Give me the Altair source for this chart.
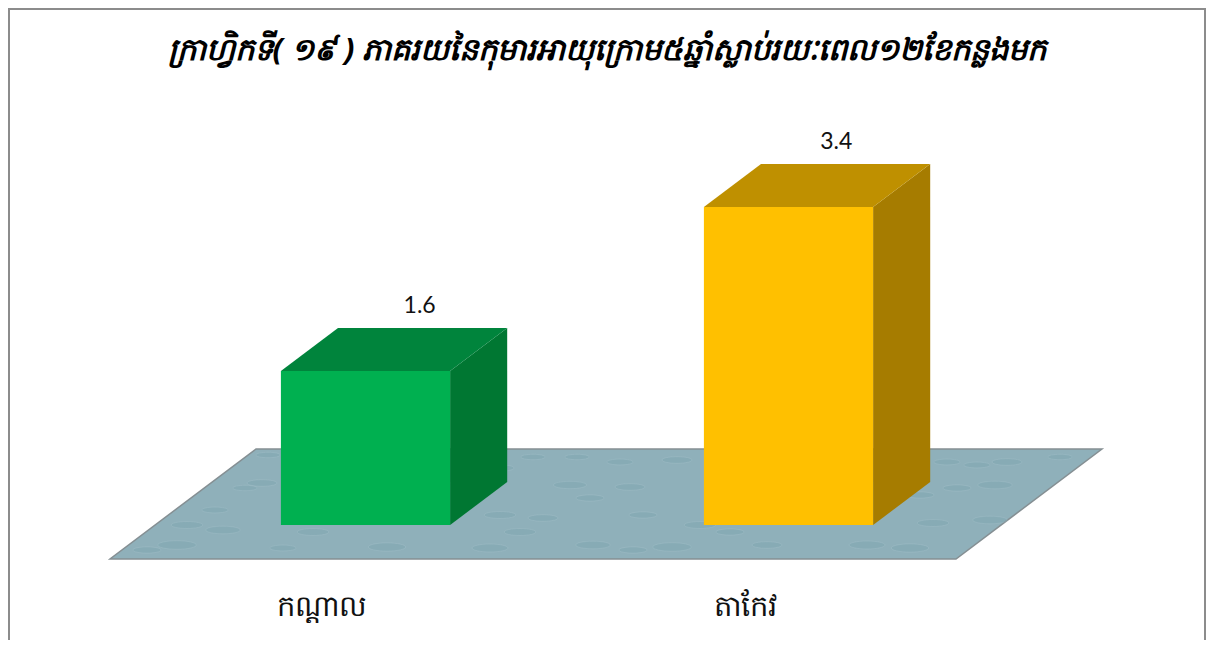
import altair as alt
import pandas as pd

title_text = "ក្រាហ្វិកទី( ១៩ ) ភាគរយនៃកុមារអាយុក្រោម៥ឆ្នាំស្លាប់រយៈពេល១២ខែកន្លងមក"
categories = ["កណ្តាល", "តាកែវ"]
values = [1.6, 3.4]
front_colors = ["#00B050", "#FFC000"]
top_colors = ["#00843C", "#BF9000"]
side_colors = ["#007732", "#A67C00"]

# Water ripples on the floor (in scale units, derived below)
ripple_px_x = [177, 147, 187, 245, 262, 223, 283, 313, 387, 490, 500, 463, 500, 533, 570, 593, 543,
               590, 477, 577, 520, 268, 215, 672, 630, 643, 700, 620, 677, 730, 910, 995, 957, 947,
               1007, 1060, 933, 990, 867, 977, 920, 767, 633]
ripple_px_y = [545, 550, 525, 488, 483, 530, 548, 532, 547, 548, 515, 485, 468, 457, 485, 545, 518,
               498, 460, 457, 532, 455, 510, 547, 487, 515, 525, 462, 460, 532, 548, 485, 488, 462,
               462, 457, 523, 520, 545, 465, 495, 545, 550]
ripple_sizes = [1500, 800, 1000, 600, 900, 1200, 700, 1000, 1400, 1300, 1000, 700, 800, 600, 1100, 1200, 900,
                800, 700, 600, 1000, 600, 700, 1500, 900, 800, 1000, 700, 900, 800, 1400, 1200, 800, 700,
                900, 600, 1000, 1200, 1300, 700, 800, 900, 800]
label_shift = [0.128, 0.113]

# Layout of the pseudo-3D projection, in scale units
W, H = 1198, 632
X_DOMAIN = [-357.5 / 423, (W - 357.5) / 423]
Y_DOMAIN = [(508.8 - H) / 91.1, 508.8 / 91.1]
HALF = 0.2
DX, DY = 0.135, 0.472
BASE = -0.09

xs = alt.Scale(domain=X_DOMAIN, nice=False, zero=False)
ys = alt.Scale(domain=Y_DOMAIN, nice=False, zero=False)
X = lambda f: alt.X(f, type="quantitative", scale=xs, axis=None)
Y = lambda f: alt.Y(f, type="quantitative", scale=ys, axis=None)

bars = pd.DataFrame({
    "i": range(len(values)), "cat": categories, "v": values,
    "front": front_colors, "top": top_colors, "side": side_colors,
    "shift": label_shift,
})
bars["l"] = bars.i - HALF
bars["r"] = bars.i + HALF
bars["base"] = BASE

side_rows, top_rows = [], []
for b in bars.itertuples():
    for k in (0, 1):
        side_rows.append({"x": b.r + k * DX, "y": BASE + k * DY, "y2": b.v + k * DY, "c": b.side})
        top_rows.append({"y": b.v + k * DY, "x": b.l + k * DX, "x2": b.r + k * DX, "c": b.top})
side = pd.DataFrame(side_rows)
top = pd.DataFrame(top_rows)

floor_df = pd.DataFrame({
    "y": [-0.463, 0.744],
    "x": [-0.604, -0.259],
    "x2": [1.396, 1.741],
})
ripples = pd.DataFrame({
    "x": [(p - 365.5) / 423 for p in ripple_px_x],
    "y": [(516.8 - p) / 91.1 for p in ripple_px_y],
    "s": ripple_sizes,
})

floor = alt.Chart(floor_df).mark_area(
    orient="horizontal", stroke="#858f93", strokeWidth=1.5, color="#8FB0BA"
).encode(x=X("x"), x2="x2", y=Y("y"))

ELLIPSE = "M-1,0 A1,0.22 0 1,0 1,0 A1,0.22 0 1,0 -1,0 Z"
ripple_m = alt.Chart(ripples).mark_point(
    shape=ELLIPSE, filled=True, fill="#6F9AA8", fillOpacity=0.25,
    stroke="#B5CED5", strokeOpacity=0.35, strokeWidth=0.7,
).encode(x=X("x"), y=Y("y"), size=alt.Size("s:Q", scale=None))

side_m = alt.Chart(side).mark_area(orient="vertical").encode(
    x=X("x"), y=Y("y"), y2="y2", color=alt.Color("c:N", scale=None))
top_m = alt.Chart(top).mark_area(orient="horizontal").encode(
    x=X("x"), x2="x2", y=Y("y"), color=alt.Color("c:N", scale=None))
front_m = alt.Chart(bars).mark_rect().encode(
    x=X("l"), x2="r", y=Y("base"), y2="v", color=alt.Color("front:N", scale=None))

bars["vlab"] = bars.v + DY
bars["xlab"] = bars.i + bars["shift"]
bars["vtxt"] = bars.v.map("{:.1f}".format)
bars["xcat"] = bars.i - 0.102
bars["ycat"] = -0.99
val_text = alt.Chart(bars).mark_text(font="Lato", fontSize=23, color="#111111", dy=-22).encode(
    x=X("xlab"), y=Y("vlab"), text="vtxt:N")
cat_text = alt.Chart(bars).mark_text(font="Noto Sans", fontSize=29, color="#111111").encode(
    x=X("xcat"), y=Y("ycat"), text="cat:N")

frame_df = pd.DataFrame({"k": [0]})
fl = alt.Chart(frame_df).mark_rule(color="#8c8c8c", strokeWidth=2).encode(
    x=alt.value(1), y=alt.value(0), y2=alt.value(H))
fr = alt.Chart(frame_df).mark_rule(color="#8c8c8c", strokeWidth=2).encode(
    x=alt.value(W - 1), y=alt.value(0), y2=alt.value(H))
ft = alt.Chart(frame_df).mark_rule(color="#8c8c8c", strokeWidth=2).encode(
    x=alt.value(0), x2=alt.value(W), y=alt.value(1))

chart = alt.layer(floor, ripple_m, side_m, top_m, front_m, val_text, cat_text, fl, fr, ft).properties(
    width=W, height=H,
    padding=0,
    autosize=alt.AutoSizeParams(type="none"),
    background="white",
    title=alt.TitleParams(title_text, font="Noto Sans", fontSize=30.7, fontStyle="italic",
                          fontWeight="bold", color="#000000", anchor="middle", dy=64),
).configure_view(stroke=None)

chart.save("out.html", embed_options={"renderer": "svg", "actions": False})
